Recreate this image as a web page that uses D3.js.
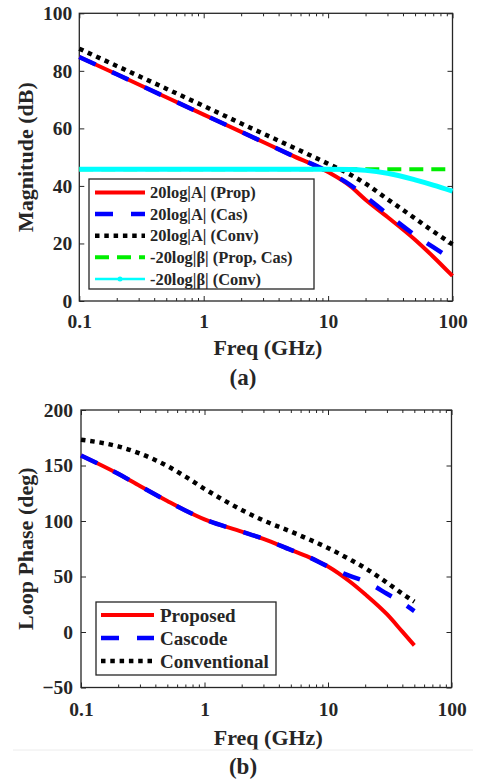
<!DOCTYPE html>
<html>
<head>
<meta charset="utf-8">
<script src="https://cdn.jsdelivr.net/npm/d3@7/dist/d3.min.js"></script>
<style>
  body { margin: 0; background: #fff; }
  svg text { font-family: "Liberation Serif", "Times New Roman"; font-weight: bold; fill: #262626; }
</style>
</head>
<body>
<svg id="chart" width="478" height="784"></svg>
<script>
// (a) loop magnitude
const freqA = [0.1, 0.2, 0.5, 1, 2, 5, 10, 15, 20, 30, 50, 70, 100];
const magProp = [84.8, 78.8, 70.8, 64.8, 58.8, 50.8, 44.8, 40, 35.2, 29.2, 21.3, 15.4, 8.7];
const magCas = [84.8, 78.8, 70.8, 64.8, 58.8, 50.8, 44.9, 40.4, 36.3, 30.2, 22.9, 18.7, 14.4];
const magConv = [87.7, 81.7, 73.8, 67.8, 61.7, 53.8, 47.7, 44, 40.8, 35.4, 28.7, 24.2, 19.7];
const betaPropCas = [45.8, 45.8, 45.8, 45.8, 45.8, 45.8, 45.8, 45.8, 45.8, 45.8, 45.8, 45.8, 45.8];
const betaConv = [45.8, 45.8, 45.8, 45.8, 45.8, 45.8, 45.8, 45.7, 45.4, 44.4, 42.1, 40.3, 38.2];
const magTicks = [0, 20, 40, 60, 80, 100];

// (b) loop phase
const freqB = [0.1, 0.2, 0.3, 0.5, 0.7, 1, 2, 3, 5, 7, 10, 15, 20, 30, 40, 50];
const phaseProp = [159, 142.5, 131.5, 118, 109.5, 101.5, 90.5, 84, 74, 67.5, 59, 45.5, 34, 16, 0.3, -12];
const phaseCas = [159, 142.5, 131.5, 118, 109.5, 101.5, 90.5, 84, 74, 67.5, 59, 50.5, 45.5, 34.5, 26.2, 18.8];
const phaseConv = [173.2, 167.2, 160.8, 149.5, 140, 129, 110, 100.5, 90.5, 83.5, 75.7, 65.4, 57.6, 44.5, 34.5, 27.4];
const phaseTicks = [-50, 0, 50, 100, 150, 200];

const freqTicks = [0.1, 1, 10, 100];

const svg = d3.select('#chart');
const axisColor = '#262626';
const fontFamily = '"Liberation Serif", "Times New Roman"';

const styles = {
  prop: { color: '#ff0000', width: 4, dash: null },
  cas: { color: '#0000ff', width: 4.5, dash: '18,18' },
  conv: { color: '#000000', width: 4.5, dash: '4.5,4.8' },
  betaPC: { color: '#00ee00', width: 4, dash: '14,8' },
  betaConv: { color: '#00ffff', width: 5, dash: null, marker: true },
};

function drawPanel(p) {
  const x = d3.scaleLog().domain([0.1, 100]).range([p.left, p.right]);
  const y = d3.scaleLinear().domain(p.yDomain).range([p.bottom, p.top]);
  const g = svg.append('g');

  const minors = x.ticks().filter(d => !freqTicks.includes(d));

  // bottom axis, major + minor
  g.append('g')
    .attr('transform', `translate(0, ${p.bottom})`)
    .call(d3.axisBottom(x).tickValues(freqTicks).tickSize(-5).tickPadding(p.xPad).tickFormat(d => String(d)));
  g.append('g')
    .attr('transform', `translate(0, ${p.bottom})`)
    .call(d3.axisBottom(x).tickValues(minors).tickSize(-3).tickFormat(''));
  // top axis, ticks only
  g.append('g')
    .attr('transform', `translate(0, ${p.top})`)
    .call(d3.axisTop(x).tickValues(freqTicks).tickSize(-5).tickFormat(''));
  g.append('g')
    .attr('transform', `translate(0, ${p.top})`)
    .call(d3.axisTop(x).tickValues(minors).tickSize(-3).tickFormat(''));
  // left / right axes
  g.append('g')
    .attr('transform', `translate(${p.left}, 0)`)
    .call(d3.axisLeft(y).tickValues(p.yTicks).tickSize(-5).tickPadding(p.yPad));
  g.append('g')
    .attr('transform', `translate(${p.right}, 0)`)
    .call(d3.axisRight(y).tickValues(p.yTicks).tickSize(-5).tickFormat(''));

  g.selectAll('g').attr('font-family', null).attr('font-size', null);
  g.selectAll('.domain').remove();
  g.selectAll('.tick line').attr('stroke', axisColor).attr('stroke-width', 1);
  g.selectAll('.tick text')
    .attr('fill', axisColor)
    .style('font-family', fontFamily)
    .style('font-size', '19.5px');

  g.append('rect')
    .attr('x', p.left).attr('y', p.top)
    .attr('width', p.right - p.left).attr('height', p.bottom - p.top)
    .attr('fill', 'none').attr('stroke', axisColor).attr('stroke-width', 1.3);

  const line = d3.line()
    .x(d => x(d.f))
    .y(d => y(d.v))
    .curve(d3.curveMonotoneX);

  p.series.forEach(s => {
    const pts = p.freq.map((f, i) => ({ f, v: s.values[i] }));
    g.append('path')
      .datum(pts)
      .attr('fill', 'none')
      .attr('stroke', s.style.color)
      .attr('stroke-width', s.style.width)
      .attr('stroke-dasharray', s.style.dash)
      .attr('d', line);
  });

  // axis titles
  g.append('text')
    .attr('x', (p.left + p.right) / 2 + 2)
    .attr('y', p.xLabelY)
    .attr('text-anchor', 'middle')
    .style('font-family', fontFamily)
    .style('font-size', '22px')
    .text('Freq (GHz)');
  g.append('text')
    .attr('transform', `translate(${p.yLabelX}, ${(p.top + p.bottom) / 2}) rotate(-90)`)
    .attr('text-anchor', 'middle')
    .style('font-family', fontFamily)
    .style('font-size', '22px')
    .text(p.yLabel);
  g.append('text')
    .attr('x', 243)
    .attr('y', p.captionY)
    .attr('text-anchor', 'middle')
    .style('font-family', fontFamily)
    .style('font-size', '23px')
    .text(p.caption);

  // legend
  const lg = p.legend;
  g.append('rect')
    .attr('x', lg.x).attr('y', lg.y)
    .attr('width', lg.w).attr('height', lg.h)
    .attr('fill', '#fff').attr('stroke', axisColor).attr('stroke-width', 1.3);
  p.series.forEach((s, i) => {
    const cy = lg.firstY + i * lg.step;
    g.append('line')
      .attr('x1', lg.x + lg.sx0).attr('x2', lg.x + lg.sx1)
      .attr('y1', cy).attr('y2', cy)
      .attr('stroke', s.style.color)
      .attr('stroke-width', s.style.marker ? 2.5 : s.style.width)
      .attr('stroke-dasharray', s.style.dash);
    if (s.style.marker) {
      g.append('circle')
        .attr('cx', lg.x + (lg.sx0 + lg.sx1) / 2).attr('cy', cy)
        .attr('r', 2.5).attr('fill', s.style.color);
    }
    g.append('text')
      .attr('x', lg.x + lg.tx)
      .attr('y', cy)
      .attr('dy', '0.35em')
      .style('font-family', fontFamily)
      .style('font-size', lg.font)
      .text(s.name);
  });
}

drawPanel({
  left: 79.3, right: 452.5, top: 13.3, bottom: 301,
  yDomain: [0, 100], yTicks: magTicks,
  xPad: 13, yPad: 7,
  freq: freqA,
  series: [
    { name: '20log|A| (Prop)', values: magProp, style: styles.prop },
    { name: '20log|A| (Cas)', values: magCas, style: styles.cas },
    { name: '20log|A| (Conv)', values: magConv, style: styles.conv },
    { name: '-20log|β| (Prop, Cas)', values: betaPropCas, style: styles.betaPC },
    { name: '-20log|β| (Conv)', values: betaConv, style: styles.betaConv },
  ],
  xLabelY: 355, yLabel: 'Magnitude (dB)', yLabelX: 33,
  caption: '(a)', captionY: 385,
  legend: { x: 89, y: 179, w: 225, h: 110, firstY: 192.5, step: 21.6, sx0: 6, sx1: 56, tx: 61, font: '16.4px' },
});

drawPanel({
  left: 81, right: 451.5, top: 410, bottom: 687.5,
  yDomain: [-50, 200], yTicks: phaseTicks,
  xPad: 15, yPad: 8,
  freq: freqB,
  series: [
    { name: 'Proposed', values: phaseProp, style: styles.prop },
    { name: 'Cascode', values: phaseCas, style: styles.cas },
    { name: 'Conventional', values: phaseConv, style: styles.conv },
  ],
  xLabelY: 745, yLabel: 'Loop Phase (deg)', yLabelX: 33,
  caption: '(b)', captionY: 774,
  legend: { x: 96, y: 602, w: 180, h: 73, firstY: 615, step: 23, sx0: 5, sx1: 58, tx: 64, font: '19px' },
});

// faint separator under panel (b)
svg.append('line')
  .attr('x1', 13).attr('x2', 473).attr('y1', 750).attr('y2', 750)
  .attr('stroke', '#ececec').attr('stroke-width', 1);
</script>
</body>
</html>
